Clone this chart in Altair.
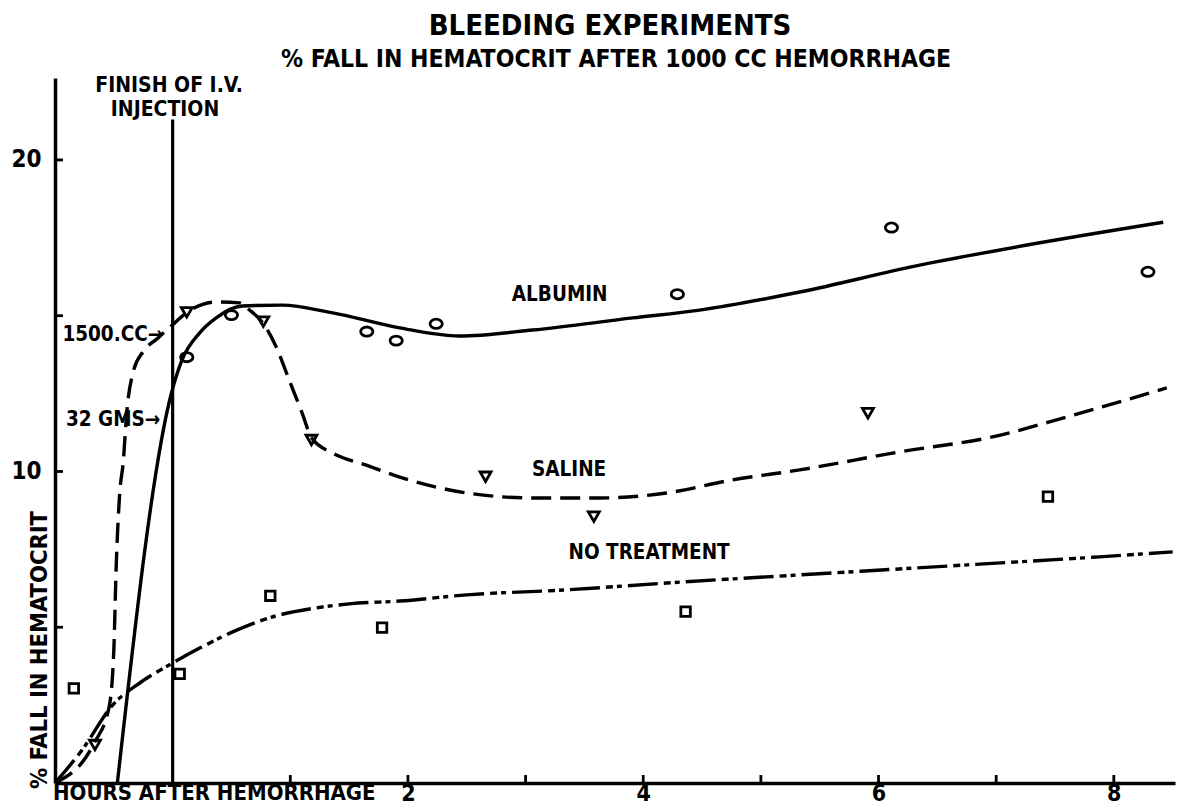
import altair as alt
import pandas as pd

# ---------------- data ----------------
# observed points
alb_pts_x = [0.12, 0.50, 1.65, 1.90, 2.24, 4.29, 6.11, 8.29]
alb_pts_y = [13.67, 15.02, 14.49, 14.20, 14.74, 15.69, 17.83, 16.41]
sal_pts_x = [-0.66, 0.12, 0.77, 1.18, 2.66, 3.58, 5.91]
sal_pts_y = [1.22, 15.11, 14.81, 11.01, 9.83, 8.55, 11.87]
not_pts_x = [-0.84, 0.06, 0.83, 1.78, 4.36, 7.44]
not_pts_y = [3.04, 3.50, 6.01, 4.99, 5.50, 9.19]

# hand-drawn curves
alb_curve_x = [-0.47, -0.01, 0.08, 0.23, 0.37, 0.59, 0.93, 1.36, 1.93, 2.44,
               3.06, 3.91, 4.48, 5.33, 6.32, 7.31, 8.42]
alb_curve_y = [0.0, 12.52, 13.58, 14.45, 14.93, 15.31, 15.34, 15.09, 14.61, 14.35,
               14.54, 14.93, 15.18, 15.76, 16.60, 17.30, 18.00]
sal_curve_x = [-1.0, -0.667, -0.54, -0.50, -0.48, -0.45, -0.42, -0.39, -0.335, -0.25,
               -0.13, -0.02, 0.115, 0.37, 0.57, 0.65, 0.76, 0.88, 0.99, 1.10, 1.18, 1.36,
               1.64, 1.93, 2.50, 3.06, 3.63, 4.20, 4.76, 5.33, 6.18, 6.97, 7.60, 8.45]
sal_curve_y = [0.0, 1.28, 2.44, 4.27, 6.93, 9.30, 10.30, 11.90, 13.20, 13.85,
               14.27, 14.64, 15.09, 15.44, 15.41, 15.19, 14.80, 14.00, 12.94, 11.88, 11.08, 10.59,
               10.21, 9.82, 9.31, 9.15, 9.15, 9.31, 9.73, 10.05, 10.63, 11.11, 11.75, 12.68]
not_curve_x = [-1.0, -0.77, -0.51, -0.28, 0.0, 0.23, 0.51, 0.82, 1.22, 1.50, 1.93,
               2.50, 3.35, 4.20, 5.33, 6.75, 7.88, 8.50]
not_curve_y = [0.0, 1.06, 2.50, 3.21, 3.85, 4.33, 4.85, 5.30, 5.62, 5.75, 5.84,
               6.04, 6.20, 6.42, 6.68, 7.00, 7.26, 7.42]

x_ticks = [1, 2, 3, 4, 5, 6, 7, 8]
x_labels = [2, 4, 6, 8]
y_ticks = [5, 10, 15, 20]
y_labels = [10, 20]
iv_time = [0.0]
iv_top = [21.3]

series_labels = ["ALBUMIN", "SALINE", "NO TREATMENT"]
series_label_x = [3.29, 3.37, 4.05]
series_label_y = [15.67, 10.05, 7.38]

note_texts = ["1500.CC\u2192", "32 GMS\u2192"]
note_x = [-0.08, -0.105]
note_y = [14.38, 11.65]

iv_texts = ["FINISH OF I.V.", "INJECTION"]
iv_text_x = [-0.03, -0.065]
iv_text_y = [22.36, 21.60]

TITLE = "BLEEDING EXPERIMENTS"
SUBTITLE = "% FALL IN HEMATOCRIT AFTER 1000 CC HEMORRHAGE"
Y_TITLE = "% FALL IN HEMATOCRIT"
X_TITLE = "HOURS AFTER HEMORRHAGE"

# ---------------- chart ----------------
W, H = 1120, 705
FONT = "DejaVu Sans Condensed, DejaVu Sans"
FW = "bold"
LW = 3.4
xs = alt.Scale(domain=[-1.0, 8.52], nice=False, zero=False)
ys = alt.Scale(domain=[0, 22.63], nice=False, zero=False)

x_axis = alt.Axis(values=x_labels, ticks=False, tickSize=0, grid=False, domainWidth=3.5,
                  domainColor="black", labelFont=FONT, labelFontWeight=FW, labelFontSize=23,
                  labelColor="black", labelBaseline="alphabetic", labelPadding=17, title=None,
                  format="d")
y_axis = alt.Axis(values=y_labels, ticks=False, tickSize=0, grid=False, domainWidth=3.5,
                  domainColor="black", labelFont=FONT, labelFontWeight=FW, labelFontSize=24,
                  labelColor="black", labelBaseline="middle", labelPadding=14, title=None,
                  format="d")


def X(field):
    return alt.X(f"{field}:Q", scale=xs, axis=x_axis)


def Y(field):
    return alt.Y(f"{field}:Q", scale=ys, axis=y_axis)


alb_curve = pd.DataFrame({"x": alb_curve_x, "y": alb_curve_y})
sal_curve = pd.DataFrame({"x": sal_curve_x, "y": sal_curve_y})
not_curve = pd.DataFrame({"x": not_curve_x, "y": not_curve_y})
alb_pts = pd.DataFrame({"x": alb_pts_x, "y": alb_pts_y})
sal_pts = pd.DataFrame({"x": sal_pts_x, "y": sal_pts_y})
not_pts = pd.DataFrame({"x": not_pts_x, "y": not_pts_y})

layers = []

layers.append(alt.Chart(alb_curve).mark_line(color="black", strokeWidth=LW, interpolate="monotone")
              .encode(x=X("x"), y=Y("y")))
layers.append(alt.Chart(sal_curve).mark_line(color="black", strokeWidth=LW, interpolate="monotone",
                                             strokeDash=[20, 9])
              .encode(x=X("x"), y=Y("y")))
layers.append(alt.Chart(not_curve).mark_line(color="black", strokeWidth=LW, interpolate="monotone",
                                             strokeDash=[30, 6, 7, 4, 5, 6])
              .encode(x=X("x"), y=Y("y")))

ellipse = "M-1,0A1,0.75,0,1,0,1,0A1,0.75,0,1,0,-1,0Z"
layers.append(alt.Chart(alb_pts).mark_point(shape=ellipse, size=150, filled=False, color="black",
                                            strokeWidth=2.8, opacity=1)
              .encode(x=X("x"), y=Y("y")))
layers.append(alt.Chart(sal_pts).mark_point(shape="triangle-down", size=120, filled=False,
                                            color="black", strokeWidth=2.8, opacity=1)
              .encode(x=X("x"), y=Y("y")))
layers.append(alt.Chart(not_pts).mark_point(shape="square", size=90, filled=False, color="black",
                                            strokeWidth=2.8, opacity=1)
              .encode(x=X("x"), y=Y("y")))

# injection line
iv_df = pd.DataFrame({"x": iv_time, "y": [0.0], "y2": iv_top})
layers.append(alt.Chart(iv_df).mark_rule(color="black", strokeWidth=3.2)
              .encode(x=X("x"), y=Y("y"), y2="y2:Q"))

# inward ticks
xt_df = pd.DataFrame({"x": x_ticks})
layers.append(alt.Chart(xt_df).mark_rule(color="black", strokeWidth=2.8)
              .encode(x=X("x"), y=alt.value(H), y2=alt.value(H - 8)))
yt_df = pd.DataFrame({"y": y_ticks})
layers.append(alt.Chart(yt_df).mark_rule(color="black", strokeWidth=2.8)
              .encode(y=Y("y"), x=alt.value(0), x2=alt.value(8)))

# series labels
sl_df = pd.DataFrame({"x": series_label_x, "y": series_label_y, "t": series_labels})
layers.append(alt.Chart(sl_df).mark_text(font=FONT, fontWeight=FW, fontSize=20.5, color="black",
                                         align="center", baseline="middle")
              .encode(x=X("x"), y=Y("y"), text="t:N"))

# arrow notes
nt_df = pd.DataFrame({"x": note_x, "y": note_y, "t": note_texts})
layers.append(alt.Chart(nt_df).mark_text(font=FONT, fontWeight=FW, fontSize=20.5, color="black",
                                         align="right", baseline="middle")
              .encode(x=X("x"), y=Y("y"), text="t:N"))

# injection caption
iv_t_df = pd.DataFrame({"x": iv_text_x, "y": iv_text_y, "t": iv_texts})
layers.append(alt.Chart(iv_t_df).mark_text(font=FONT, fontWeight=FW, fontSize=21, color="black",
                                           align="center", baseline="middle")
              .encode(x=X("x"), y=Y("y"), text="t:N"))

# titles and axis captions
one = pd.DataFrame({"t": [0]})
layers.append(alt.Chart(one).mark_text(text=TITLE, font=FONT, fontWeight=FW, fontSize=29,
                                       color="black", align="center", baseline="alphabetic")
              .encode(x=alt.value(555), y=alt.value(-43)))
layers.append(alt.Chart(one).mark_text(text=SUBTITLE, font=FONT, fontWeight=FW, fontSize=24.5,
                                       color="black", align="center", baseline="alphabetic")
              .encode(x=alt.value(561), y=alt.value(-11)))
layers.append(alt.Chart(one).mark_text(text=Y_TITLE, font=FONT, fontWeight=FW, fontSize=23.5,
                                       color="black", align="center", baseline="middle", angle=270)
              .encode(x=alt.value(-15), y=alt.value(572)))
layers.append(alt.Chart(one).mark_text(text=X_TITLE, font=FONT, fontWeight=FW, fontSize=22,
                                       color="black", align="left", baseline="alphabetic")
              .encode(x=alt.value(-2), y=alt.value(H + 17)))

chart = alt.layer(*layers).properties(
    width=W, height=H,
    autosize=alt.AutoSizeParams(type="none"),
    padding={"left": 47, "top": 70, "right": 5, "bottom": 21},
    background="white",
).configure_view(strokeWidth=0).configure_axis(grid=False)

chart.save("out.html", embed_options={"renderer": "svg", "actions": False})
